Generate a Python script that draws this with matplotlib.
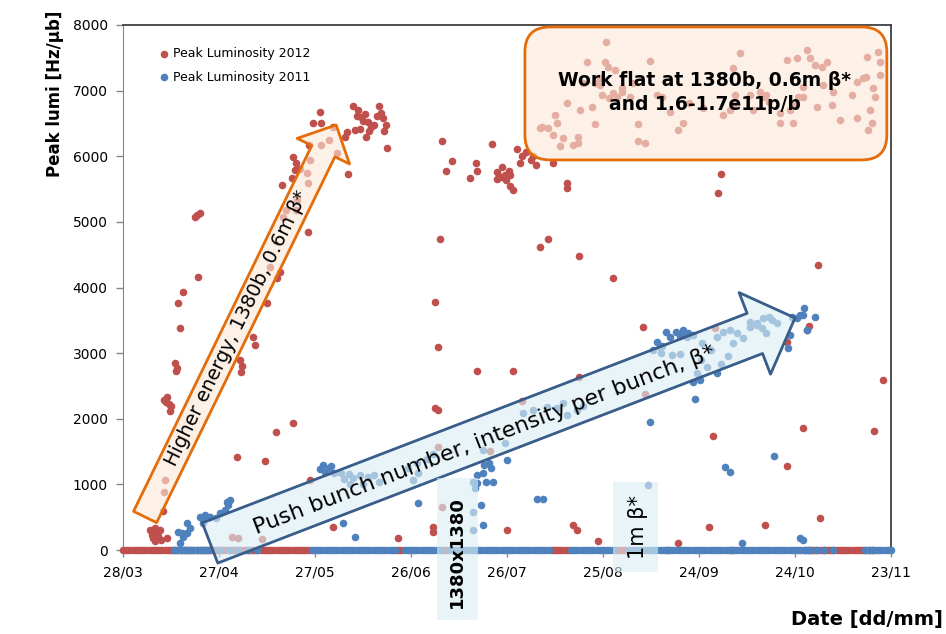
import numpy as np
import pandas as pd
import matplotlib
matplotlib.use("Agg")
import matplotlib.pyplot as plt
from matplotlib.patches import FancyArrowPatch, FancyBboxPatch, Rectangle, ArrowStyle

# ---------- data (day offsets from 28/03, peak lumi in Hz/ub) ----------
START = pd.Timestamp("2012-03-28")
TICK_DAYS = [0, 30, 60, 90, 120, 150, 180, 210, 240]
Y_TICKS = [0, 1000, 2000, 3000, 4000, 5000, 6000, 7000, 8000]

# 2012: fills sitting on the zero line
red_zero_days = [0, 1, 2, 3, 4, 5, 6, 7, 8, 9, 10, 11, 12, 13, 14, 15, 16, 17, 18, 19,
                 20, 21, 22, 23, 24, 25, 26, 27, 28, 29, 30, 31, 32, 33, 34, 35, 36, 37, 38, 39,
                 40, 41, 42, 43, 44, 45, 46, 47, 48, 49, 50, 51, 52, 53, 54, 55, 56, 57, 58,
                 86, 87, 100, 101, 134, 135, 136, 137, 138, 139, 154, 155, 156, 157, 170, 190,
                 213, 214, 215, 216, 217, 218, 219, 220, 221, 222, 223, 224, 225, 226, 227, 228,
                 229, 230, 231, 232, 233, 234]

# 2012: fills above zero
red_days = [8.5, 9.0, 9.5, 10.0, 10.5, 11.0, 11.5, 12.0, 10.0, 12.5, 12.8, 13.0, 13.8,
            12.8, 13.5, 14.3, 15.0, 14.7, 13.8, 16.3, 16.9, 16.6, 17.8, 17.2, 18.8, 23.4,
            22.5, 23.2, 24.0,
            36.6, 37.2, 37.0, 40.7, 41.3, 45.0, 48.0, 49.0, 46.0, 50.0, 51.0, 54.0, 54.5,
            57.5, 57.8, 58.5, 62.0, 64.5, 66.8, 49.6, 52.8, 53.7, 53.0, 54.2, 55.3, 57.8,
            58.0, 59.4, 62.0, 61.5, 65.5, 70.3, 70.0, 69.4,
            71.9, 73.4, 74.5, 75.0, 76.5, 77.5, 78.3, 77.0, 76.0, 74.0, 79.5, 80.5, 81.3,
            82.3, 81.7, 82.6, 73.0, 75.5, 80.0, 72.5,
            34.0, 36.0, 43.5, 58.4, 65.6, 35.7, 44.4, 47.8, 53.2,
            86.0, 97.0, 96.8, 99.7, 98.4, 97.5, 98.4, 98.4, 97.5, 99.0, 99.7, 102.8, 101.0,
            110.3, 110.6, 108.4, 115.3,
            117.0, 118.5, 118.2, 119.3, 120.7, 121.0, 119.8, 120.8, 121.8, 116.8,
            123.0, 124.0, 124.7, 126.0, 127.5, 129.0, 128.0, 134.4, 138.8, 138.8,
            130.3, 132.8, 142.5, 153.0, 162.5, 110.6, 121.9, 124.7, 142.5, 163.0,
            120.0, 140.6, 141.8, 148.4, 173.4, 183.0, 184.4, 187.0, 186.0,
            207.5, 200.6, 212.5, 217.8, 234.7, 237.5, 214.4, 213.8, 207.5, 217.2, 185.0, 114.7,
            150.9, 145.0, 150.6, 151.6, 164.7, 153.8, 149.0, 149.0, 149.7, 153.0, 152.0,
            156.0, 158.4, 166.9, 138.8, 142.8, 146.6, 135.0, 135.6, 130.3, 132.8, 134.4,
            142.2, 142.2, 147.5, 161.0, 161.0, 163.0, 173.4, 159.4, 192.8, 191.3, 190.6,
            187.5, 199.0, 201.0, 196.0, 207.5, 210.6, 213.8, 214.7, 216.3, 218.4, 220.0,
            212.5, 211.0, 209.4, 205.3, 205.3, 209.4, 216.9, 221.6, 221.9, 218.8, 224.0,
            227.8, 229.4, 232.5, 231.3, 234.4, 235.0, 233.4, 234.0, 232.8, 236.0, 236.6,
            236.6, 190.6, 232.2, 229.4, 208.4, 212.5, 200.0, 202.0, 197.0, 189.7, 181.3,
            177.0, 175.0, 168.4, 171.0, 154.4, 156.0, 147.5, 143.8, 137.5, 136.5, 131.0, 140.6]
red_vals = [300, 230, 180, 330, 270, 210, 310, 150, 140, 590, 880, 1070, 180,
            2290, 2260, 2230, 2190, 2120, 2330, 2850, 2770, 2730, 3380, 3760, 3930, 4160,
            5075, 5100, 5135,
            2900, 2800, 2710, 3250, 3120, 3760, 4150, 4240, 4310, 5070, 5180, 5180, 5330,
            5740, 5600, 5940, 6170, 6250, 6050, 5560, 5670, 5790, 5990, 5900, 5810, 4850,
            6170, 6510, 6510, 6680, 6440, 5730, 6370, 6290,
            6770, 6700, 6600, 6540, 6520, 6450, 6480, 6380, 6300, 6420, 6620, 6660, 6580,
            6470, 6380, 6130, 6620, 6640, 6760, 6400,
            200, 190, 170, 1070, 350, 1420, 1360, 1800, 1935,
            180, 350, 275, 650, 1570, 2160, 2130, 3090, 3780, 4740, 6230, 5930, 5780,
            5900, 5780, 5670, 6190,
            5760, 5830, 5690, 5710, 5770, 5720, 5640, 5550, 5480, 5660,
            6110, 5900, 6000, 6070, 5950, 5870, 6000, 5900, 5590, 5520,
            4620, 4740, 4480, 4145, 3400, 2730, 2730, 2270, 2640, 2370,
            300, 380, 300, 140, 110, 350, 1740, 5730, 5440,
            1280, 380, 1860, 490, 1810, 2590, 3410, 3350, 3170, 4340, 3380, 1510,
            7740, 7440, 7440, 7360, 7450, 7320, 7190, 7090, 6930, 6960, 6890,
            6980, 6900, 6930, 6810, 6710, 6750, 6630, 6510, 6430, 6430, 6320,
            6290, 6200, 6490, 6490, 6230, 6200, 6400, 7120, 7570, 6930, 6780,
            6630, 6980, 6930, 6930, 7470, 7500, 7620, 7500, 7390, 7360, 7440,
            7060, 6900, 6780, 6660, 6510, 6510, 6750, 6780, 6980, 7090, 6550,
            6930, 6580, 7510, 7190, 7040, 6900, 6710, 6510, 6400, 7590, 7440,
            7240, 7350, 7210, 7130, 6700, 6900, 6900, 6830, 6710, 6710, 6740,
            6810, 6510, 6900, 6680, 6900, 7040, 7120, 7120, 6280, 6150, 6450, 6170]

# 2011: fills sitting on the zero line
blue_zero_days = [16, 17, 18, 19, 20, 21, 22, 23, 24, 25, 26, 27, 30, 33, 36, 39, 42,
                  59, 60, 61, 62, 63, 64, 65, 66, 67, 68, 69, 70, 71, 72, 73, 74, 75, 76, 77,
                  78, 79, 80, 81, 82, 83, 84, 85, 88, 89, 90, 91, 92, 93, 94, 95, 96, 97, 98,
                  99, 102, 103, 104, 105, 106, 107, 108, 109, 110, 111, 112, 113, 114, 115,
                  116, 117, 118, 119, 120, 121, 122, 123, 124, 125, 126, 127, 128, 129, 130,
                  131, 132, 133, 140, 141, 142, 143, 144, 145, 146, 147, 148, 149, 150, 151,
                  152, 153, 158, 159, 160, 161, 162, 163, 164, 165, 166, 167, 168, 169, 170,
                  171, 172, 173, 174, 175, 176, 177, 178, 179, 180, 181, 182, 183, 184, 185,
                  186, 187, 188, 189, 190, 191, 192, 193, 194, 195, 196, 197, 198, 199, 200,
                  201, 202, 203, 204, 205, 206, 207, 208, 209, 210, 211, 212, 213, 214, 215,
                  217, 219, 222, 232, 233, 234, 235, 236, 237, 238, 239, 240]

# 2011: fills above zero
blue_days = [18.4, 20.9, 18.8, 17.8, 20.0, 20.0, 17.2, 24.0, 25.6, 27.2, 25.0, 25.0, 29.0,
             30.3, 31.9, 32.8, 33.4, 32.5,
             61.6, 62.5, 64.3, 66.0, 63.0, 65.0,
             68.0, 70.5, 72.0, 74.0, 76.5, 78.5, 80.0, 71.0, 75.0, 69.0,
             68.8, 72.5, 92.2, 90.6, 92.2, 89.0, 92.0, 95.0, 97.0,
             110.6, 110.0, 112.5, 114.4, 115.6, 115.0, 109.4, 110.6, 113.4, 112.8, 120.0,
             112.5, 109.4, 109.4, 112.0, 112.5, 119.4,
             129.4, 131.3, 164.7, 164.0, 178.8, 178.0, 180.3, 179.4, 188.0, 189.7, 203.4,
             212.5, 211.6, 193.4,
             166.9, 169.7, 172.8, 175.0, 176.6, 171.0, 168.4, 174.0, 175.5, 178.0, 167.8,
             176.3, 175.0,
             125.0, 128.0, 132.5, 135.6, 138.7, 137.5, 141.9, 143.8, 165.6, 168.0, 171.5,
             174.0, 181.0, 183.8, 180.6, 182.5, 185.6, 180.0, 187.0, 189.0, 190.6,
             185.6, 187.5, 189.7, 191.9, 193.8, 196.0, 198.0, 200.0, 202.0, 204.4, 196.0,
             198.0, 199.6, 201.0, 202.8,
             209.0, 211.6, 212.8, 212.5, 216.3, 208.4, 207.8, 213.8, 210.6]
blue_vals = [260, 335, 200, 110, 410, 260, 275, 500, 530, 500, 410, 460, 490,
             560, 610, 690, 760, 730,
             1230, 1300, 1250, 1170, 1190, 1280,
             1170, 1160, 1100, 1150, 1120, 1140, 1030, 1000, 1010, 1080,
             410, 200, 720, 1070, 1170, 1250, 1330, 1380, 1460,
             1020, 945, 1170, 1320, 1040, 1250, 1040, 1140, 1040, 1300, 1370,
             380, 580, 300, 680, 1520, 1630,
             780, 780, 1950, 990, 2300, 2560, 2590, 2700, 1260, 1190, 1430,
             150, 180, 100,
             3170, 3320, 3320, 3340, 3310, 3240, 3110, 3260, 3270, 3280, 3090,
             3250, 3350,
             2090, 2130, 2180, 2160, 2060, 2240, 2130, 2200, 3050, 3000, 2970,
             2980, 3150, 3050, 2900, 2790, 2690, 2640, 2840, 2950, 3150,
             3250, 3320, 3350, 3300, 3230, 3400, 3460, 3540, 3550, 3460, 3480,
             3430, 3380, 3300, 3500,
             3550, 3580, 3690, 3580, 3550, 3280, 3080, 3350, 3530]

RED = "#C0504D"
BLUE = "#4F81BD"
ORANGE = "#E46C0A"
PEACH = (253 / 255, 233 / 255, 217 / 255, 0.62)
ICE = (219 / 255, 238 / 255, 244 / 255, 0.62)

# ---------- figure ----------
fig = plt.figure(figsize=(9.46, 6.34), dpi=100)
ax = fig.add_axes([123 / 946, 1 - 550 / 634, 768 / 946, 525 / 634])
ax.set_xlim(0, 240)
ax.set_ylim(0, 8000)

ms = 30
ax.scatter(red_zero_days, np.zeros(len(red_zero_days)), s=ms, color=RED, lw=0,
           zorder=3, clip_on=False)
ax.scatter(red_days, red_vals, s=ms, color=RED, lw=0, zorder=3, clip_on=False,
           label="Peak Luminosity 2012")
ax.scatter(blue_zero_days, np.zeros(len(blue_zero_days)), s=ms, color=BLUE, lw=0,
           zorder=4, clip_on=False)
ax.scatter(blue_days, blue_vals, s=ms, color=BLUE, lw=0, zorder=4, clip_on=False,
           label="Peak Luminosity 2011")

# axes styling
ax.set_xticks(TICK_DAYS)
ax.set_xticklabels([(START + pd.Timedelta(days=d)).strftime("%d/%m") for d in TICK_DAYS])
ax.set_yticks(Y_TICKS)
ax.set_yticklabels([str(v) for v in Y_TICKS])
ax.tick_params(axis="both", direction="out", length=5, width=1, color="#868686",
               labelsize=10)
ax.tick_params(axis="y", pad=6)
ax.tick_params(axis="x", pad=6)
for side in ["left", "bottom"]:
    ax.spines[side].set_color("#868686")
for side in ["top", "right"]:
    ax.spines[side].set_color("#404040")
    ax.spines[side].set_linewidth(1.3)

leg = ax.legend(loc="upper left", bbox_to_anchor=(0.047, 0.958), frameon=False,
                fontsize=9, scatterpoints=1, handlelength=0.8, handletextpad=0.3,
                borderpad=0, borderaxespad=0, labelspacing=0.85)
leg.set_zorder(10)

# ---------- annotations ----------
def screen_angle(p0, p1):
    (x0, y0), (x1, y1) = ax.transData.transform([p0, p1])
    return np.degrees(np.arctan2(y1 - y0, x1 - x0))

# orange arrow: higher energy
o_tail, o_tip = (6.9, 503), (66.6, 6477)
arr = FancyArrowPatch(o_tail, o_tip,
                      arrowstyle=ArrowStyle.Simple(head_length=21, head_width=42, tail_width=18.5),
                      mutation_scale=1, shrinkA=0, shrinkB=0, fc=PEACH, ec=ORANGE,
                      lw=2, zorder=5, clip_on=False)
ax.add_patch(arr)
ax.text(35.5, 3380, "Higher energy, 1380b, 0.6m β*", fontsize=14,
        rotation=screen_angle(o_tail, o_tip), rotation_mode="anchor",
        ha="center", va="center", zorder=6)

# blue arrow: push bunch number
b_tail, b_tip = (27.2, 107), (210.0, 3536)
arr = FancyArrowPatch(b_tail, b_tip,
                      arrowstyle=ArrowStyle.Simple(head_length=31, head_width=63, tail_width=31),
                      mutation_scale=1, shrinkA=0, shrinkB=0, fc=ICE, ec="#385D8A",
                      lw=2, zorder=5, clip_on=False)
ax.add_patch(arr)
ax.text(113.0, 1676, "Push bunch number, intensity per bunch, β*", fontsize=16,
        rotation=screen_angle(b_tail, b_tip), rotation_mode="anchor",
        ha="center", va="center", zorder=6)

# work-flat box
box = FancyBboxPatch((125.6, 5944), 113.1, 2026,
                     boxstyle="round,pad=0,rounding_size=7.8", mutation_aspect=48.8,
                     fc=PEACH, ec=ORANGE, lw=2, zorder=5, clip_on=False)
ax.add_patch(box)
ax.text(181.8, 6970, "Work flat at 1380b, 0.6m β*\nand 1.6-1.7e11p/b", fontsize=13.5,
        fontweight="bold", ha="center", va="center", linespacing=1.35, zorder=6)

# vertical labels
ax.add_patch(Rectangle((98.1, -1067), 12.8, 2164, fc=ICE, ec="none", zorder=5,
                       clip_on=False))
ax.text(104.4, -30, "1380x1380", fontsize=13, fontweight="bold", rotation=90,
        ha="center", va="center", zorder=6, clip_on=False)
ax.add_patch(Rectangle((153.1, -335), 14.1, 1371, fc=ICE, ec="none", zorder=5,
                       clip_on=False))
ax.text(161.0, 350, "1m β*", fontsize=15, rotation=90, ha="center", va="center",
        zorder=6)

# axis titles
fig.text(55 / 946, 1 - 94 / 634, "Peak lumi [Hz/µb]", rotation=90, fontsize=12,
         fontweight="bold", ha="center", va="center")
fig.text(943 / 946, 1 - 620 / 634, "Date [dd/mm]", fontsize=14, fontweight="bold",
         ha="right", va="center")

fig.savefig("out.png", dpi=100)
